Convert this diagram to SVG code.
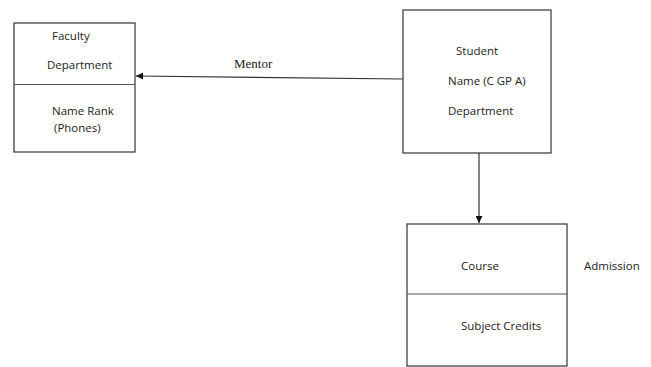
<svg xmlns="http://www.w3.org/2000/svg" width="651" height="367" viewBox="0 0 651 367">
<style>
.box{fill:#fff;stroke:#333;stroke-width:1.2}
.div{stroke:#555;stroke-width:1.2}
.t{font-family:"Open Sans","Liberation Sans",sans-serif;font-size:11.5px;fill:#222}
.m{font-family:"Liberation Serif",serif;font-size:13px;fill:#222}
.c{stroke:#333;stroke-width:1.2;fill:none}
</style>
<defs>
<marker id="ah" viewBox="0 0 10 10" refX="10" refY="5" markerWidth="7" markerHeight="7" orient="auto" markerUnits="userSpaceOnUse"><path d="M0,0L10,5L0,10z" fill="#111"/></marker>
</defs>
<rect width="651" height="367" fill="#fff"/>
<g id="faculty">
<rect class="box" x="14" y="23" width="121" height="129"/>
<line class="div" x1="14" y1="84.5" x2="135" y2="84.5"/>
<text class="t" x="52" y="40">Faculty</text>
<text class="t" x="47" y="69">Department</text>
<text class="t" x="52" y="115">Name Rank</text>
<text class="t" x="54" y="132">(Phones)</text>
</g>
<g id="student">
<rect class="box" x="403" y="10" width="148" height="143"/>
<text class="t" x="456" y="55">Student</text>
<text class="t" x="448" y="85">Name (C GP A)</text>
<text class="t" x="448" y="115">Department</text>
</g>
<g id="course">
<rect class="box" x="407" y="224" width="160" height="142"/>
<line class="div" x1="407" y1="294" x2="567" y2="294"/>
<text class="t" x="461" y="270">Course</text>
<text class="t" x="461" y="330">Subject Credits</text>
</g>
<g id="admission">
<text class="t" x="584" y="270">Admission</text>
</g>
<g id="connectors">
<line class="c" x1="403" y1="79" x2="136" y2="76" marker-end="url(#ah)"/>
<text class="m" x="234" y="68">Mentor</text>
<line class="c" x1="479" y1="153" x2="479" y2="223" marker-end="url(#ah)"/>
</g>
</svg>
